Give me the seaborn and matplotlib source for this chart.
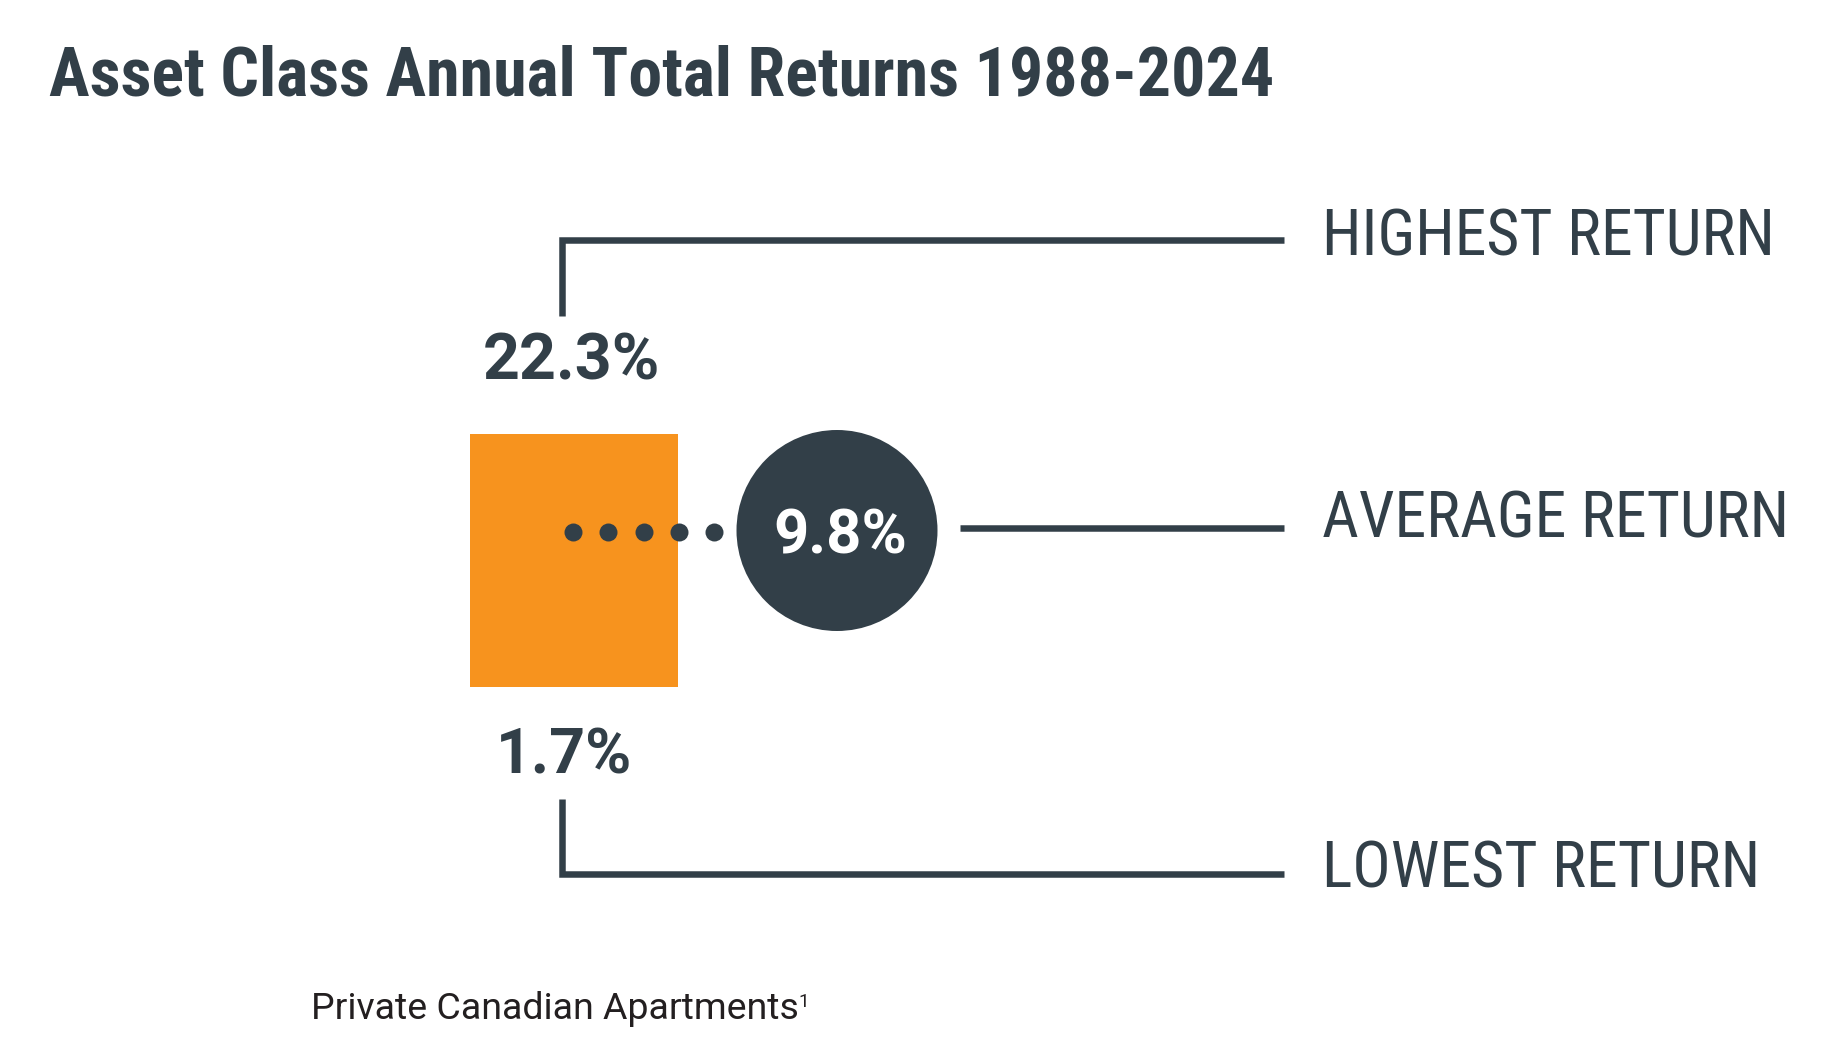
import numpy as np
import matplotlib.pyplot as plt
import seaborn as sns
from matplotlib import font_manager as fm
from matplotlib.font_manager import FontProperties
from matplotlib.textpath import TextPath

# chart content
title = "Asset Class Annual Total Returns 1988-2024"
asset_name = "Private Canadian Apartments"
footnote_mark = "1"
stat_labels = ["HIGHEST RETURN", "AVERAGE RETURN", "LOWEST RETURN"]
stat_values = [22.3, 9.8, 1.7]

DARK = "#323F48"
ORANGE = "#F7931E"
INK = "#231F20"

sns.set_theme(style="white")
installed = {f.name for f in fm.fontManager.ttflist}
candidates = [f for f in ["Roboto Condensed", "Roboto"] if f in installed] or ["DejaVu Sans"]
plt.rcParams["font.family"] = [candidates[0], "DejaVu Sans"]

DPI = 100
PX = DPI / 72
fig = plt.figure(figsize=(18.3, 10.6), dpi=DPI)
ax = fig.add_axes([0, 0, 1, 1])
ax.set_xlim(0, 1830)
ax.set_ylim(1060, 0)
ax.axis("off")


def measure(s, fam, weight):
    fp = FontProperties(family=fam, weight=weight)
    cap = TextPath((0, 0), "H", size=100, prop=fp).get_extents().height / 100
    w = TextPath((0, 0), s, size=100, prop=fp).get_extents().width / 100
    return fp, cap, w


def put_text(x, y, s, cap, width, weight="normal", ha="left", color=DARK):
    # pick the font whose proportions are closest, then size between cap and width fit
    best = None
    for fam in candidates:
        fp, c, w = measure(s, fam, weight)
        err = abs(np.log((w / c) / (width / cap)))
        if best is None or err < best[0]:
            best = (err, fp, c, w)
    _, fp, c, w = best
    size = np.sqrt((cap / (c * PX)) * (width / (w * PX)))
    fp.set_size(size)
    ax.text(x, y, s, fontproperties=fp, ha=ha, va="baseline", color=color)
    return w * size * PX, fp.get_family()[0]


high, avg, low = stat_values

# range box and average marker
ax.bar(574, 253, width=208, bottom=434, color=ORANGE, linewidth=0)
sns.scatterplot(x=np.linspace(573, 714, 5), y=np.full(5, 532.0), s=168,
                color=DARK, linewidth=0, ax=ax, legend=False)
ax.add_patch(plt.Circle((837, 530.5), 100.5, color=DARK, linewidth=0))

# leader lines
lw = 6.5 * 72 / DPI
line_kw = dict(color=DARK, lw=lw, solid_capstyle="butt", solid_joinstyle="miter")
ax.plot([561.5, 561.5, 1284], [316, 240, 240], **line_kw)
ax.plot([960, 1284], [528, 528], **line_kw)
ax.plot([561.5, 561.5, 1284], [799, 874, 874], **line_kw)

# texts
put_text(49, 95, title, 47, 1252, weight="bold")
put_text(571, 380, f"{high:.1f}%", 47, 168, weight="bold", ha="center")
put_text(840.5, 553, f"{avg:.1f}%", 45, 125, weight="bold", ha="center", color="white")
put_text(564.5, 774, f"{low:.1f}%", 45, 127, weight="bold", ha="center")

for lab, base, w in zip(stat_labels, [256, 538, 888], [456, 477, 442]):
    put_text(1322, base, lab, 44, w)

foot_w, foot_fam = put_text(311, 1019, asset_name, 26, 495, color=INK)
ax.text(311 + foot_w + 4, 1007, footnote_mark, fontsize=13.5, color=INK,
        family=foot_fam, ha="left", va="baseline")

fig.savefig("out.png", dpi=DPI, facecolor="white")
